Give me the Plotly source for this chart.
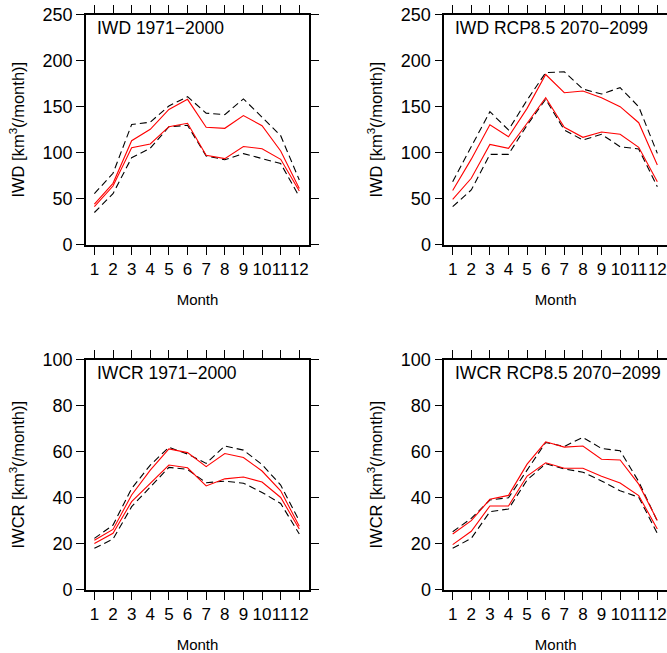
import plotly.graph_objects as go

months = list(range(1, 13))
month_labels = [str(m) for m in months]

# IWD 1971-2000
iwd_hist_red_hi = [44, 66.7, 113, 125.4, 147, 158, 127.6, 126.5, 140.4, 129.4, 101.8, 61]
iwd_hist_red_lo = [41.3, 63.8, 105.4, 109.5, 128.3, 132, 97.2, 93.6, 106.7, 104.3, 92.8, 58.4]
iwd_hist_blk_hi = [55.5, 77.6, 130.6, 133.2, 150.8, 160.9, 143, 141.4, 158.5, 138, 118.5, 70.3]
iwd_hist_blk_lo = [35, 55.5, 94.6, 104.9, 128.2, 129.8, 96.5, 92.4, 99, 94, 88.2, 52.2]

# IWD RCP8.5 2070-2099
iwd_fut_red_hi = [59, 93, 130.4, 117.4, 148.2, 185, 165.2, 167, 159.8, 150, 132.6, 86.6]
iwd_fut_red_lo = [49.3, 72.2, 109, 104.8, 132, 159.8, 127.6, 116.7, 122.5, 120, 105.9, 68.5]
iwd_fut_blk_hi = [68.5, 106.5, 144.6, 124.7, 157.3, 187, 188, 169.2, 163.8, 170.7, 150, 99.3]
iwd_fut_blk_lo = [41.3, 59.5, 98.2, 98.2, 130, 158, 124.7, 113.8, 120, 106.5, 104, 63]

# IWCR 1971-2000
iwcr_hist_red_hi = [21.5, 26.2, 41.2, 52, 61.2, 59.6, 53.5, 59.2, 57.5, 51.6, 43, 27.6]
iwcr_hist_red_lo = [20.1, 24.5, 38.3, 46.2, 54.2, 53, 45.1, 48.2, 49, 46.8, 40.1, 26.4]
iwcr_hist_blk_hi = [22.3, 28.1, 44, 54.2, 61.9, 59, 54.9, 62.5, 60.7, 54.4, 45.5, 29.9]
iwcr_hist_blk_lo = [18, 22, 36.1, 44.8, 53.2, 52.3, 46.5, 47.2, 46.3, 42.3, 37.5, 24.2]

# IWCR RCP8.5 2070-2099
iwcr_fut_red_hi = [24.2, 30, 39.3, 41, 54.6, 64.3, 62, 62.5, 56.7, 56.4, 45.9, 30.1]
iwcr_fut_red_lo = [19.6, 25.4, 36.4, 36.4, 49.4, 55.2, 52.8, 52.8, 49.3, 46.4, 40.9, 26.4]
iwcr_fut_blk_hi = [25.2, 31, 39, 40, 52, 64, 62.3, 66.2, 61.4, 60.4, 47, 29.8]
iwcr_fut_blk_lo = [18, 22.3, 33.9, 35.1, 47.7, 54.8, 52.5, 51.1, 47.3, 43, 40.2, 24.5]

panels = [
    ("IWD 1971\u22122000", [iwd_hist_red_hi, iwd_hist_red_lo], [iwd_hist_blk_hi, iwd_hist_blk_lo]),
    ("IWD RCP8.5 2070\u22122099", [iwd_fut_red_hi, iwd_fut_red_lo], [iwd_fut_blk_hi, iwd_fut_blk_lo]),
    ("IWCR 1971\u22122000", [iwcr_hist_red_hi, iwcr_hist_red_lo], [iwcr_hist_blk_hi, iwcr_hist_blk_lo]),
    ("IWCR RCP8.5 2070\u22122099", [iwcr_fut_red_hi, iwcr_fut_red_lo], [iwcr_fut_blk_hi, iwcr_fut_blk_lo]),
]
y_titles = ["IWD [km<sup>3</sup>(/month)]", "IWD [km<sup>3</sup>(/month)]",
            "IWCR [km<sup>3</sup>(/month)]", "IWCR [km<sup>3</sup>(/month)]"]
y_ranges = [[0, 250], [0, 250], [0, 100], [0, 100]]
y_dticks = [50, 50, 20, 20]

W, H = 667, 653
xdom = [[86 / W, 309 / W], [444.3 / W, 1.0]]
ydom = [[1 - 244.7 / H, 1 - 14.7 / H], [1 - 589.7 / H, 1 - 359.7 / H]]

FONT = "Liberation Sans, Arial, Helvetica, sans-serif"
fig = go.Figure()
layout = dict(
    template="none",
    width=W, height=H, margin=dict(l=0, r=0, t=0, b=0, pad=0, autoexpand=False),
    paper_bgcolor="white", plot_bgcolor="white", showlegend=False,
    font=dict(family=FONT, color="black"),
)
annotations = []
for i, (title, reds, blacks) in enumerate(panels):
    n = i + 1
    xa = "x" if n == 1 else f"x{n}"
    ya = "y" if n == 1 else f"y{n}"
    for s in blacks:
        fig.add_trace(go.Scatter(x=months, y=s, mode="lines", xaxis=xa, yaxis=ya,
                                 line=dict(color="black", width=1.1, dash="7px,4px")))
    for s in reds:
        fig.add_trace(go.Scatter(x=months, y=s, mode="lines", xaxis=xa, yaxis=ya,
                                 line=dict(color="#ff0000", width=1.1)))
    col = i % 2
    row = i // 2
    xkey = "xaxis" if n == 1 else f"xaxis{n}"
    ykey = "yaxis" if n == 1 else f"yaxis{n}"
    layout[xkey] = dict(
        domain=xdom[col], anchor=ya, range=[0.55, 12.52], automargin=False,
        tickmode="array", tickvals=months, ticktext=month_labels, tickangle=0,
        ticks="outside", ticklen=8, tickwidth=1.1, tickcolor="black",
        showline=True, linewidth=1.6, linecolor="black", mirror="ticks",
        showgrid=False, zeroline=False,
        tickfont=dict(size=17, family=FONT),
        title=dict(text="Month", font=dict(size=15, family=FONT), standoff=17),
    )
    layout[ykey] = dict(
        domain=ydom[row], anchor=xa, range=y_ranges[i], dtick=y_dticks[i], tick0=0,
        automargin=False,
        ticks="outside", ticklen=8, tickwidth=1.1, tickcolor="black",
        showline=True, linewidth=1.6, linecolor="black",
        mirror="ticks" if col == 0 else False,
        showgrid=False, zeroline=False,
        tickfont=dict(size=18, family=FONT),
        title=dict(text=y_titles[i], font=dict(size=16.5, family=FONT), standoff=14),
    )
    annotations.append(dict(
        text=title, xref=f"{xa} domain", yref=f"{ya} domain", x=0.04, y=0.943,
        xanchor="left", yanchor="middle", showarrow=False,
        font=dict(size=17.5, family=FONT, color="black"),
    ))
layout["annotations"] = annotations
fig.update_layout(**layout)
fig.write_html("out.html")
